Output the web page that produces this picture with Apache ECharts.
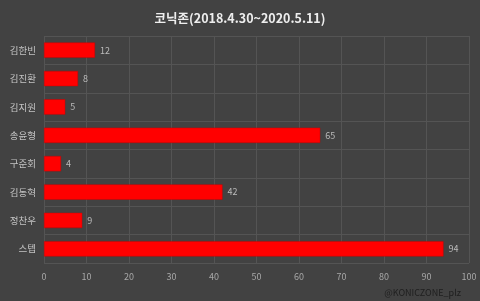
<!DOCTYPE html>
<html><head><meta charset="utf-8">
<script src="https://cdn.jsdelivr.net/npm/echarts@6/dist/echarts.min.js"></script>
<style>html,body{margin:0;padding:0;background:#424242;}#c{width:480px;height:301px;}</style>
</head><body><div id="c"></div>
<script>
const titleText = '코닉존(2018.4.30~2020.5.11)';
const categories = ['김한빈','김진환','김지원','송윤형','구준회','김동혁','정찬우','스텝'];
const values = [12,8,5,65,4,42,9,94];
const xTicks = [0,10,20,30,40,50,60,70,80,90,100];
const watermark = '@KONICZONE_plz';
const font = '"Noto Sans CJK KR", "Noto Sans", sans-serif';
const chart = echarts.init(document.getElementById('c'));
chart.setOption({
  backgroundColor: '#424242',
  animation: false,
  title: [{
    text: titleText, left: 'center', top: 7,
    textStyle: {color: '#eeeeee', fontSize: 12.5, fontWeight: 'bold', fontFamily: font}
  },{
    text: watermark, right: 14, top: 283,
    textStyle: {color: '#1e1e1e', fontSize: 9, fontWeight: 'normal', fontFamily: font}
  }],
  grid: {left: 44, right: 11, top: 36, bottom: 38, containLabel: false},
  xAxis: {
    type: 'value', min: xTicks[0], max: xTicks[xTicks.length-1], interval: 10,
    axisLine: {show: false}, axisTick: {show: false},
    axisLabel: {color: '#a8a8a8', fontSize: 9, margin: 9, fontFamily: font},
    splitLine: {show: true, lineStyle: {color: '#545454', width: 1}}
  },
  yAxis: {
    type: 'category', data: categories, inverse: true,
    axisLine: {show: false}, axisTick: {show: false},
    axisLabel: {color: '#c4c4c4', fontSize: 9.5, margin: 8, fontFamily: font},
    splitLine: {show: true, lineStyle: {color: '#545454', width: 1}}
  },
  series: [{
    type: 'bar', data: values, barCategoryGap: '46%',
    itemStyle: {color: '#ff0000', borderColor: '#c80000', borderWidth: 0.5},
    label: {show: true, position: 'right', distance: 5, color: '#bbbbbb', fontSize: 9, fontFamily: font}
  }]
});
</script></body></html>
